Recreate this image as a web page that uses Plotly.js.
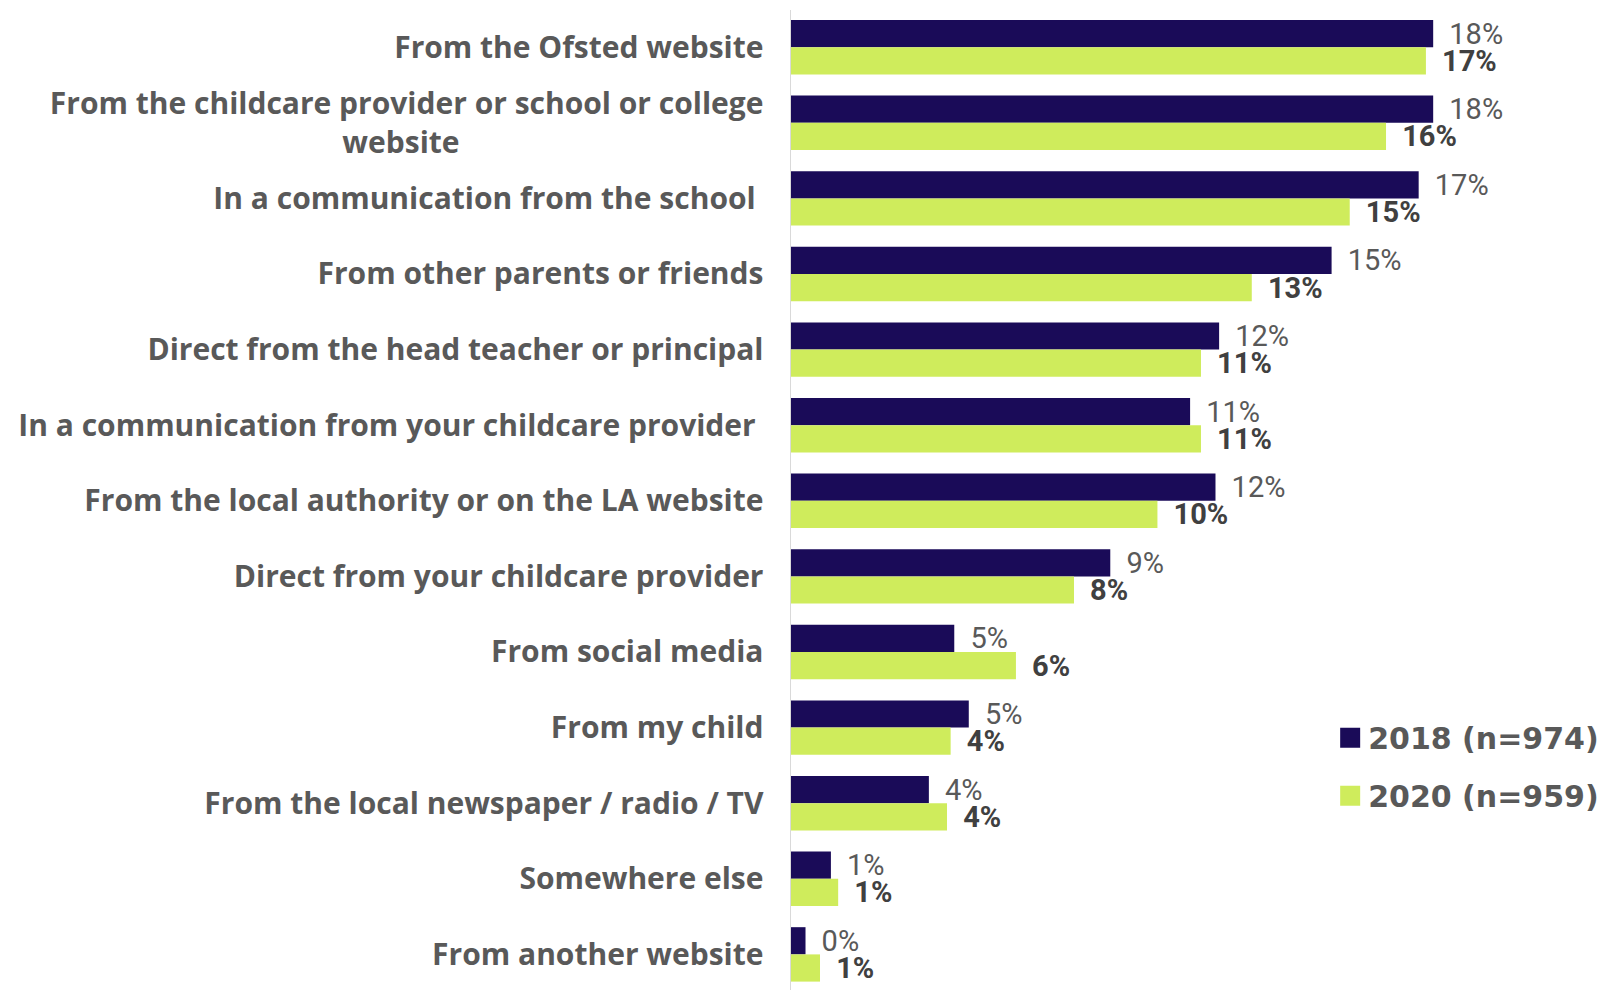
<!DOCTYPE html>
<html>
<head>
<meta charset="utf-8">
<script src="https://cdn.plot.ly/plotly-3.0.1.min.js"></script>
<style>
  html, body { margin: 0; padding: 0; background: #ffffff; }
  #chart { width: 1605px; height: 990px; }
</style>
</head>
<body>
<div id="chart"></div>
<script>
const categories = [
  "From the Ofsted website",
  "From the childcare provider or school or college website",
  "In a communication from the school",
  "From other parents or friends",
  "Direct from the head teacher or principal",
  "In a communication from your childcare provider",
  "From the local authority or on the LA website",
  "Direct from your childcare provider",
  "From social media",
  "From my child",
  "From the local newspaper / radio / TV",
  "Somewhere else",
  "From another website"
];

const NB = "\u00a0";
const tickLabels = [
  "From the Ofsted website",
  "From the childcare provider or school or college<br>website" + NB.repeat(39),
  "In a communication from the school" + NB,
  "From other parents or friends",
  "Direct from the head teacher or principal",
  "In a communication from your childcare provider" + NB,
  "From the local authority or on the LA website",
  "Direct from your childcare provider",
  "From social media",
  "From my child",
  "From the local newspaper / radio / TV",
  "Somewhere else",
  "From another website"
];

const seriesNames = ["2018 (n=974)", "2020 (n=959)"];
const values2018 = [17.7, 17.7, 17.3, 14.9, 11.8, 11.0, 11.7, 8.8, 4.5, 4.9, 3.8, 1.1, 0.4];
const values2020 = [17.5, 16.4, 15.4, 12.7, 11.3, 11.3, 10.1, 7.8, 6.2, 4.4, 4.3, 1.3, 0.8];
const labels2018 = ["18%","18%","17%","15%","12%","11%","12%","9%","5%","5%","4%","1%","0%"];
const labels2020 = ["17%","16%","15%","13%","11%","11%","10%","8%","6%","4%","4%","1%","1%"];

const colors = ["#1A0B58", "#CFEC5C"];

function barTrace(name, vals, labels, color, bold) {
  return {
    type: "bar",
    orientation: "h",
    name: name,
    y: categories,
    x: vals,
    text: labels.map(s => NB + "\u2009" + s),
    textposition: "outside",
    constraintext: "none",
    cliponaxis: false,
    textangle: 0,
    textfont: {
      family: "Roboto, 'Liberation Sans', sans-serif",
      size: 29,
      color: bold ? "#404040" : "#595959",
      weight: bold ? 700 : 400
    },
    marker: { color: color, line: { width: 0 } },
    hoverinfo: "skip",
    legendgroup: name
  };
}

const data = [
  barTrace(seriesNames[0], values2018, labels2018, colors[0], false),
  barTrace(seriesNames[1], values2020, labels2020, colors[1], true)
];

const layout = {
  width: 1605,
  height: 990,
  margin: { l: 791, r: 92, t: 10, b: 0, pad: 0 },
  paper_bgcolor: "#ffffff",
  plot_bgcolor: "#ffffff",
  barmode: "group",
  bargap: 0.28,
  bargroupgap: 0,
  showlegend: true,
  legend: {
    x: 0.744,
    xanchor: "left",
    y: 0.284,
    yanchor: "top",
    traceorder: "grouped",
    tracegroupgap: 16,
    font: { family: "'DejaVu Sans', sans-serif", size: 30, color: "#595959", weight: 700 },
    bgcolor: "rgba(0,0,0,0)",
    itemclick: false,
    itemdoubleclick: false
  },
  xaxis: {
    range: [0, 19.9],
    showgrid: false,
    zeroline: false,
    showline: false,
    showticklabels: false,
    ticks: "",
    fixedrange: true
  },
  yaxis: {
    type: "category",
    categoryorder: "array",
    categoryarray: categories,
    tickvals: categories,
    ticktext: tickLabels,
    range: [12.471, -0.492],
    showgrid: false,
    zeroline: false,
    showline: true,
    linecolor: "#D9D9D9",
    linewidth: 1.5,
    ticks: "outside",
    ticklen: 20,
    tickcolor: "rgba(0,0,0,0)",
    tickfont: { family: "'Open Sans', sans-serif", size: 30, color: "#595959", weight: 700 },
    automargin: false,
    fixedrange: true
  }
};

Plotly.newPlot("chart", data, layout, { displayModeBar: false, staticPlot: true }).then(function (gd) {
  gd.querySelectorAll(".legend .legendpoints path").forEach(function (p) {
    p.removeAttribute("transform");
    p.setAttribute("d", "M32,10H12V-10H32Z");
  });
});
</script>
</body>
</html>
